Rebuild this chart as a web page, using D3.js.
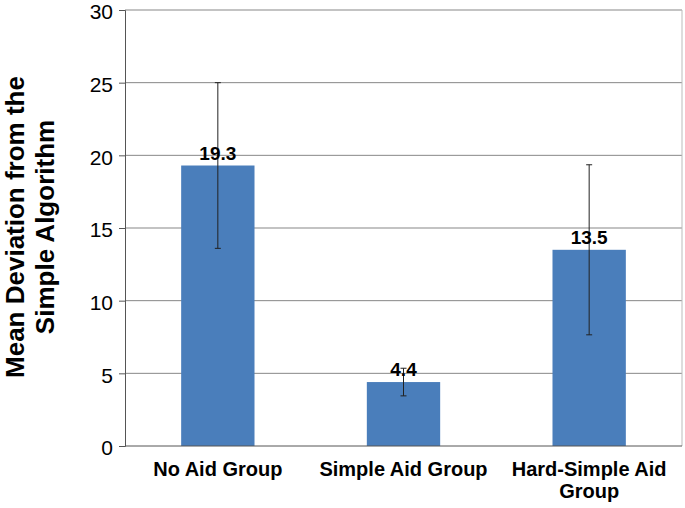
<!DOCTYPE html>
<html>
<head>
<meta charset="utf-8">
<script src="https://cdn.jsdelivr.net/npm/d3@7"></script>
<style>
  body { margin: 0; background: #fff; }
  text { font-family: "Liberation Sans", Arial, sans-serif; }
</style>
</head>
<body>
<div id="chart"></div>
<script>
// data
const categories = [['No Aid Group'], ['Simple Aid Group'], ['Hard-Simple Aid', 'Group']];
const means = [19.3, 4.4, 13.5];
const errors = [5.7, 0.95, 5.85];
const valueLabels = ['19.3', '4.4', '13.5'];
const yTicks = [0, 5, 10, 15, 20, 25, 30];

const width = 685;
const height = 508;
const margin = { top: 10, right: 3, bottom: 62, left: 125 };

const svg = d3.select('#chart')
  .append('svg')
  .attr('width', width)
  .attr('height', height);

const x = d3.scaleBand()
  .domain(d3.range(categories.length))
  .range([margin.left, width - margin.right])
  .paddingInner(0.605)
  .paddingOuter(0.3025);

const y = d3.scaleLinear()
  .domain([0, 30])
  .range([height - margin.bottom, margin.top]);

// gridlines
svg.append('g')
  .selectAll('line')
  .data(yTicks.filter(d => d > 0))
  .enter()
  .append('line')
  .attr('x1', margin.left)
  .attr('x2', width - margin.right)
  .attr('y1', d => y(d))
  .attr('y2', d => y(d))
  .attr('stroke', '#878787')
  .attr('stroke-width', 1);

// right border of plot
svg.append('line')
  .attr('x1', width - margin.right)
  .attr('x2', width - margin.right)
  .attr('y1', margin.top)
  .attr('y2', y(0))
  .attr('stroke', '#bbbbbb');

// bars
svg.selectAll('rect.bar')
  .data(means)
  .enter()
  .append('rect')
  .attr('class', 'bar')
  .attr('x', (d, i) => x(i))
  .attr('y', d => y(d))
  .attr('width', x.bandwidth())
  .attr('height', d => y(0) - y(d))
  .attr('fill', '#4a7ebb');

// y axis
const yAxis = svg.append('g')
  .attr('transform', `translate(${margin.left},0)`)
  .call(d3.axisLeft(y).tickValues(yTicks).tickSize(6).tickPadding(6));
yAxis.select('.domain').attr('stroke', '#555');
yAxis.selectAll('.tick line').attr('stroke', '#555');
yAxis.selectAll('.tick text')
  .attr('fill', '#000')
  .attr('dy', '0.42em')
  .style('font-size', '21px')
  .style('font-family', '"Liberation Sans", Arial, sans-serif');

// x axis line
svg.append('line')
  .attr('x1', margin.left)
  .attr('x2', width - margin.right)
  .attr('y1', y(0))
  .attr('y2', y(0))
  .attr('stroke', '#555');

// error bars
const err = svg.append('g').attr('stroke', '#222').attr('stroke-width', 1);
means.forEach((m, i) => {
  const cx = x(i) + x.bandwidth() / 2;
  err.append('line')
    .attr('x1', cx).attr('x2', cx)
    .attr('y1', y(m + errors[i])).attr('y2', y(m - errors[i]));
  [m + errors[i], m - errors[i]].forEach(v => {
    err.append('line')
      .attr('x1', cx - 3).attr('x2', cx + 3)
      .attr('y1', y(v)).attr('y2', y(v));
  });
});

// value labels
svg.selectAll('text.value')
  .data(means)
  .enter()
  .append('text')
  .attr('class', 'value')
  .attr('x', (d, i) => x(i) + x.bandwidth() / 2)
  .attr('y', d => y(d) - 6)
  .attr('text-anchor', 'middle')
  .style('font-size', '19px')
  .style('font-weight', 'bold')
  .text((d, i) => valueLabels[i]);

// category labels
categories.forEach((lines, i) => {
  const t = svg.append('text')
    .attr('x', x(i) + x.bandwidth() / 2)
    .attr('y', y(0) + 30)
    .attr('text-anchor', 'middle')
    .style('font-size', '20px')
    .style('font-weight', 'bold');
  lines.forEach((ln, j) => {
    t.append('tspan')
      .attr('x', x(i) + x.bandwidth() / 2)
      .attr('dy', j === 0 ? 0 : 22)
      .text(ln);
  });
});

// y title
const title = svg.append('text')
  .attr('transform', 'translate(0,227) rotate(-90)')
  .attr('text-anchor', 'middle')
  .style('font-size', '26px')
  .style('font-weight', 'bold');
title.append('tspan').attr('x', 0).attr('y', 24).text('Mean Deviation from the');
title.append('tspan').attr('x', 0).attr('y', 54).text('Simple Algorithm');
</script>
</body>
</html>
